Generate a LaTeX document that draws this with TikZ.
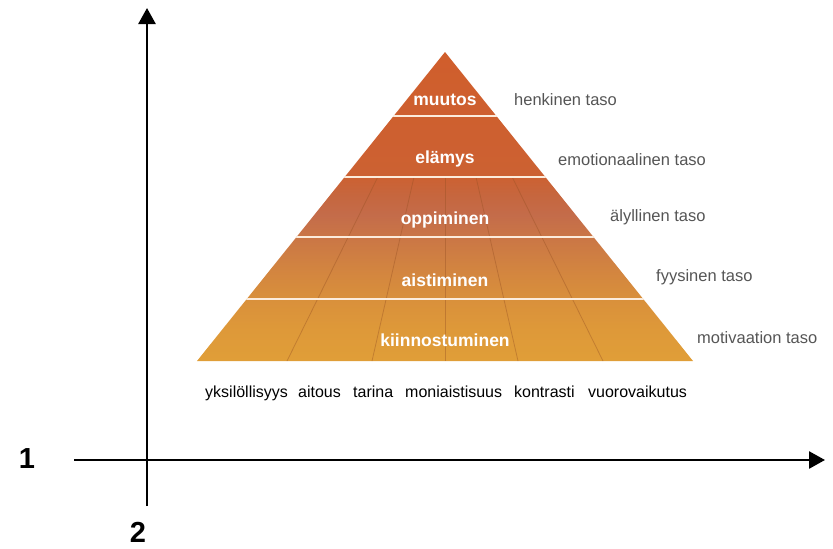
\documentclass[tikz,border=0pt]{standalone}
\usepackage{fontspec}
\setmainfont{Liberation Sans}
\usetikzlibrary{arrows.meta}
\definecolor{c0}{RGB}{224,158,56}
\definecolor{c1}{RGB}{222,153,57}
\definecolor{c2}{RGB}{217,144,59}
\definecolor{c3}{RGB}{210,132,64}
\definecolor{c4}{RGB}{202,118,70}
\definecolor{c5}{RGB}{196,108,74}
\definecolor{c6}{RGB}{198,102,62}
\definecolor{c7}{RGB}{204,97,50}
\definecolor{c8}{RGB}{208,94,44}
\definecolor{sidegray}{RGB}{85,85,85}
\definecolor{bandline}{RGB}{252,236,220}
\definecolor{gridbrown}{RGB}{150,80,35}
\pgfdeclareverticalshading{pyrshade}{100bp}{color(0bp)=(c0); color(25bp)=(c0); color(30bp)=(c1); color(35bp)=(c2); color(40bp)=(c3); color(45.1bp)=(c4); color(48.6bp)=(c5); color(51.9bp)=(c6); color(54.8bp)=(c7); color(75bp)=(c8); color(100bp)=(c8)}
\begin{document}
\begin{tikzpicture}[x=1pt,y=-1pt,
  axisline/.style={line width=2.6pt, -{Triangle[length=16pt,width=17pt]}},
  lvl/.style={font=\bfseries\fontsize{17.5}{20}\selectfont, text=white, inner sep=0pt, anchor=base},
  side/.style={font=\fontsize{16.5}{20}\selectfont, text=sidegray, inner sep=0pt, anchor=base west},
  bottomlbl/.style={font=\fontsize{16}{20}\selectfont, text=black, inner sep=0pt, anchor=base west},
  axlabel/.style={font=\bfseries\fontsize{29}{32}\selectfont, inner sep=0pt},
  bandsep/.style={draw=bandline, line width=2pt},
  gridln/.style={draw=gridbrown, draw opacity=0.4, line width=0.8pt}]
\useasboundingbox (0,0) rectangle (833,549);
% pyramid
\coordinate (apex) at (445,52);
\coordinate (bl) at (197,361);
\coordinate (br) at (693,361);
\shade[shading=pyrshade] (apex) -- (br) -- (bl) -- cycle;
\begin{scope}
  \clip (apex) -- (br) -- (bl) -- cycle;
  \foreach \tx/\bx in {377.85/287, 414/372, 445/445, 476/518, 512.15/603}
    \draw[gridln] (\tx,177) -- (\bx,361);
  \foreach \y in {116,177,237,298.5}
    \draw[bandsep] (190,\y) -- (700,\y);
\end{scope}
% level labels
\node[lvl] (muutos) at (445,105) {muutos};
\node[lvl] (elamys) at (445,163) {elämys};
\node[lvl] (oppiminen) at (445,224) {oppiminen};
\node[lvl] (aistiminen) at (445,286) {aistiminen};
\node[lvl] (kiinn) at (445,346) {kiinnostuminen};
% side labels
\node[side] (henk) at (514,105) {henkinen taso};
\node[side] (emot) at (558,165) {emotionaalinen taso};
\node[side] (aly) at (610,221.5) {älyllinen taso};
\node[side] (fyys) at (656,281.5) {fyysinen taso};
\node[side] (motiv) at (697,343) {motivaation taso};
% bottom labels
\node[bottomlbl] (b1) at (205,397) {yksilöllisyys};
\node[bottomlbl] (b2) at (298,397) {aitous};
\node[bottomlbl] (b3) at (353,397) {tarina};
\node[bottomlbl] (b4) at (405,397) {moniaistisuus};
\node[bottomlbl] (b5) at (514,397) {kontrasti};
\node[bottomlbl] (b6) at (588,397) {vuorovaikutus};
% axes
\coordinate (xstart) at (74,460);
\coordinate (xend) at (825,460);
\coordinate (ystart) at (147,506);
\coordinate (yend) at (147,8);
\draw[axisline] (xstart) -- (xend);
\draw[axisline] (ystart) -- (yend);
\node[axlabel] (one) at (27,459) {1};
\node[axlabel] (two) at (138,532) {2};
\end{tikzpicture}
\end{document}
